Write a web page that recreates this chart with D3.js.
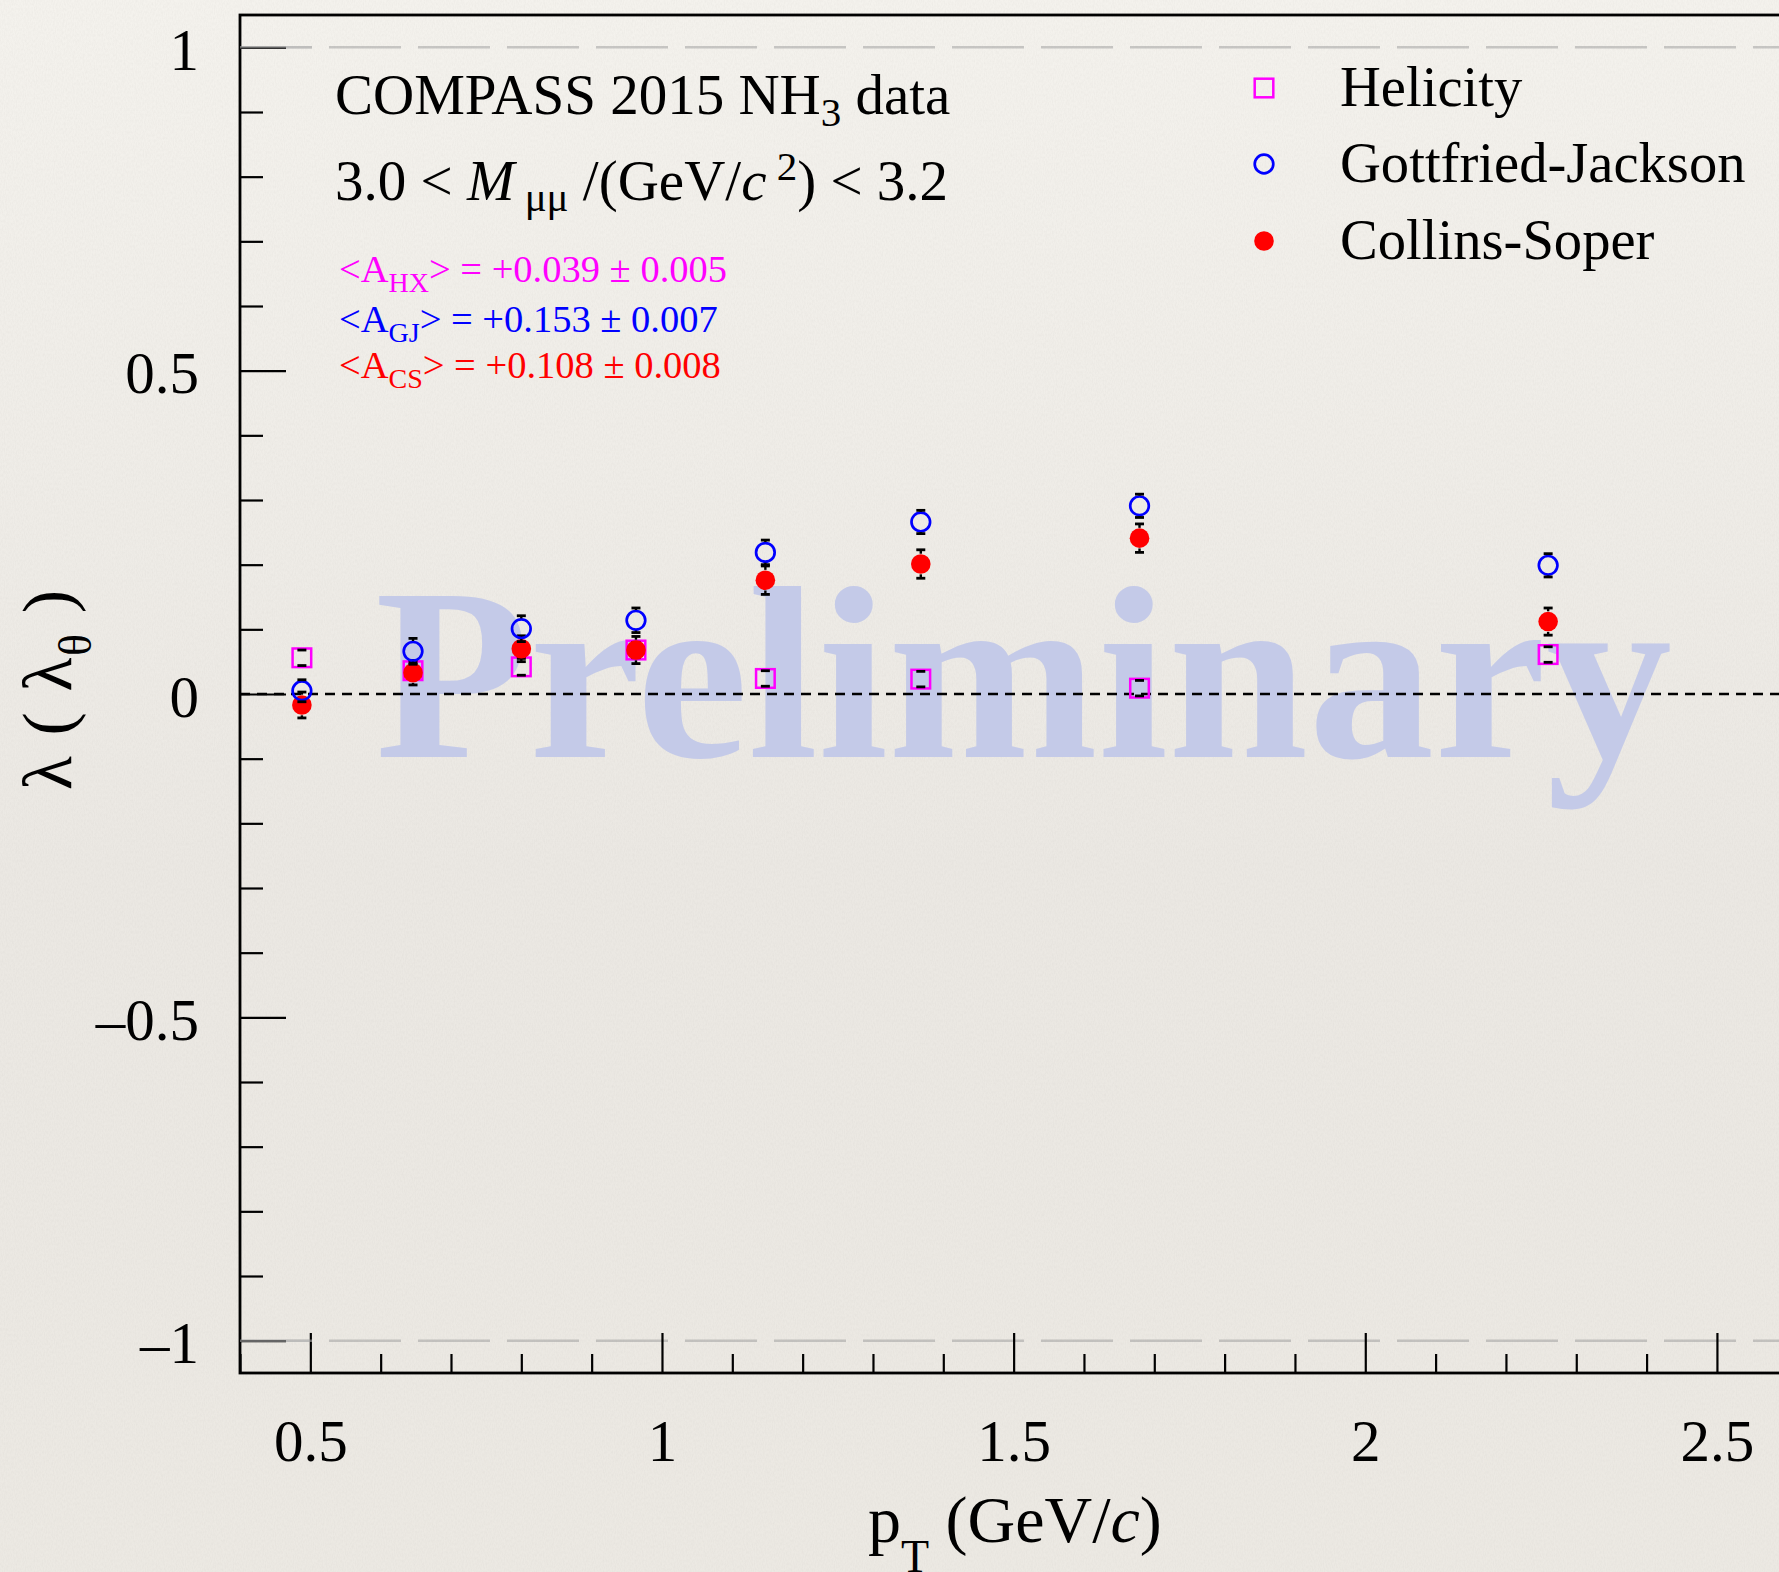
<!DOCTYPE html>
<html>
<head>
<meta charset="utf-8">
<script src="https://cdn.jsdelivr.net/npm/d3@7"></script>
<style>
  html, body { margin: 0; padding: 0; background: #efece7; }
  svg { display: block; }
</style>
</head>
<body>
<script>
// pT bin centres (GeV/c)
const ptBins = [0.488, 0.646, 0.800, 0.963, 1.147, 1.368, 1.679, 2.260];

// lambda_theta per frame, with statistical errors
const lambdaHX = [0.056, 0.036, 0.042, 0.068, 0.024, 0.023, 0.009, 0.061];
const errHX    = [0.012, 0.012, 0.013, 0.012, 0.012, 0.012, 0.012, 0.012];
const lambdaGJ = [0.005, 0.066, 0.101, 0.114, 0.219, 0.266, 0.291, 0.199];
const errGJ    = [0.017, 0.020, 0.020, 0.019, 0.019, 0.018, 0.018, 0.018];
const lambdaCS = [-0.017, 0.033, 0.070, 0.068, 0.176, 0.201, 0.241, 0.112];
const errCS    = [0.020, 0.019, 0.020, 0.021, 0.022, 0.022, 0.022, 0.021];

// axis ticks
const xMajorTicks = [0.5, 1, 1.5, 2, 2.5];
const xTickLabels = ["0.5", "1", "1.5", "2", "2.5"];
const yMajorTicks = [-1, -0.5, 0, 0.5, 1];
const yTickLabels = ["\u20131", "\u20130.5", "0", "0.5", "1"];

// legend and mean-asymmetry annotations
const frameNames  = ["Helicity", "Gottfried-Jackson", "Collins-Soper"];
const frameColors = ["#ff00ff", "#0000ff", "#ff0000"];
const meanSubs    = ["HX", "GJ", "CS"];
const meanValues  = ["+0.039", "+0.153", "+0.108"];
const meanErrors  = ["0.005", "0.007", "0.008"];

const W = 1779, H = 1572;
const serif = "'Liberation Serif', 'Times New Roman', serif";

const svg = d3.select("body").append("svg")
  .attr("width", W).attr("height", H)
  .attr("viewBox", `0 0 ${W} ${H}`);

// ---- paper background ----
const defs = svg.append("defs");
const bg = defs.append("linearGradient").attr("id", "paper")
  .attr("x1", 0).attr("y1", 0).attr("x2", 0).attr("y2", 1);
bg.append("stop").attr("offset", "0%").attr("stop-color", "#f4f2ed");
bg.append("stop").attr("offset", "55%").attr("stop-color", "#ebe8e3");
bg.append("stop").attr("offset", "100%").attr("stop-color", "#ece9e3");
const grain = defs.append("filter").attr("id", "grain")
  .attr("x", 0).attr("y", 0).attr("width", "100%").attr("height", "100%");
grain.append("feTurbulence").attr("type", "fractalNoise")
  .attr("baseFrequency", "0.9 0.35").attr("numOctaves", 2).attr("seed", 7);
grain.append("feColorMatrix").attr("type", "matrix")
  .attr("values", "0 0 0 0 0.45  0 0 0 0 0.43  0 0 0 0 0.40  0 0 0 -1.1 0.75");

svg.append("rect").attr("width", W).attr("height", H).attr("fill", "url(#paper)");
svg.append("rect").attr("width", W).attr("height", H)
  .attr("filter", "url(#grain)").attr("opacity", 0.14);

// ---- scales ----
const x = d3.scaleLinear().domain([0.4, 2.6]).range([240, 240 + 2.2 * 703.3]);
const y = d3.scaleLinear().domain([-1.05, 1.05]).range([1373, 15]);

// ---- watermark ----
svg.append("text")
  .attr("x", 375).attr("y", 757)
  .attr("font-family", serif).attr("font-weight", "bold")
  .attr("font-size", 246)
  .attr("fill", "#c4cae8")
  .attr("textLength", 1297).attr("lengthAdjust", "spacingAndGlyphs")
  .text("Preliminary");

// ---- reference lines ----
[1, -1].forEach(v => {
  svg.append("line")
    .attr("x1", x(0.4)).attr("x2", W)
    .attr("y1", y(v)).attr("y2", y(v))
    .attr("stroke", "#9a9a9a").attr("stroke-opacity", 0.5)
    .attr("stroke-width", 2.5).attr("stroke-dasharray", "72 17");
});
svg.append("line")
  .attr("x1", x(0.4)).attr("x2", W)
  .attr("y1", y(0)).attr("y2", y(0))
  .attr("stroke", "#000").attr("stroke-width", 2.6)
  .attr("stroke-dasharray", "10 7");

// ---- axes ----
const yMinor = d3.range(-10, 11).map(i => i / 10).filter(v => Math.abs(v * 2 - Math.round(v * 2)) > 1e-6);
const xMinor = d3.range(4, 27).map(i => i / 10).filter(v => Math.abs(v * 2 - Math.round(v * 2)) > 1e-6);

const yAxis = svg.append("g").attr("transform", `translate(${x(0.4)},0)`)
  .call(d3.axisLeft(y).tickValues(yMajorTicks).tickSize(-46).tickPadding(41)
    .tickFormat((d, i) => yTickLabels[i]));
yAxis.selectAll(".tick text").attr("dy", 22).attr("font-size", 59).attr("font-family", serif).attr("fill", "#000");
svg.append("g").attr("transform", `translate(${x(0.4)},0)`)
  .call(d3.axisLeft(y).tickValues(yMinor).tickSize(-23).tickFormat(""));

const xAxis = svg.append("g").attr("transform", `translate(0,${y(-1.05)})`)
  .call(d3.axisBottom(x).tickValues(xMajorTicks).tickSize(-40).tickPadding(46)
    .tickFormat((d, i) => xTickLabels[i]));
xAxis.selectAll(".tick text").attr("font-size", 59).attr("font-family", serif).attr("fill", "#000");
svg.append("g").attr("transform", `translate(0,${y(-1.05)})`)
  .call(d3.axisBottom(x).tickValues(xMinor).tickSize(-19).tickFormat(""));

svg.selectAll(".domain").remove();
svg.selectAll(".tick line").attr("stroke", "#000").attr("stroke-width", 2.2);

// frame
svg.append("rect")
  .attr("x", x(0.4)).attr("y", y(1.05))
  .attr("width", x(2.6) - x(0.4)).attr("height", y(-1.05) - y(1.05))
  .attr("fill", "none").attr("stroke", "#000").attr("stroke-width", 2.8);

// redraw the y = ±1 guides over their ticks
[1, -1].forEach(v => {
  svg.append("line")
    .attr("x1", x(0.4)).attr("x2", x(0.4) + 72)
    .attr("y1", y(v)).attr("y2", y(v))
    .attr("stroke", "#b8b8b8").attr("stroke-opacity", 0.55)
    .attr("stroke-width", 2.5);
});

// ---- data series ----
const MARK = 9.3;   // marker half-size (stroke centre)
const series = [
  { vals: lambdaHX, errs: errHX, color: frameColors[0], shape: "square" },
  { vals: lambdaCS, errs: errCS, color: frameColors[2], shape: "dot" },
  { vals: lambdaGJ, errs: errGJ, color: frameColors[1], shape: "circle" }
];

function drawMarker(g, shape, color, cx, cy) {
  if (shape === "square") {
    g.append("rect").attr("x", cx - MARK).attr("y", cy - MARK)
      .attr("width", 2 * MARK).attr("height", 2 * MARK)
      .attr("fill", "none").attr("stroke", color).attr("stroke-width", 2.5);
  } else if (shape === "circle") {
    g.append("circle").attr("cx", cx).attr("cy", cy).attr("r", MARK)
      .attr("fill", "none").attr("stroke", color).attr("stroke-width", 2.7);
  } else {
    g.append("circle").attr("cx", cx).attr("cy", cy).attr("r", 9.8)
      .attr("fill", color);
  }
}

series.forEach(s => {
  const g = svg.append("g");
  const pts = ptBins.map((p, i) => ({ p, v: s.vals[i], e: s.errs[i] }));
  pts.forEach(d => {
    const cx = x(d.p), cy = y(d.v);
    drawMarker(g, s.shape, s.color, cx, cy);
    const top = y(d.v + d.e), bot = y(d.v - d.e);
    const eb = g.append("g").attr("stroke", "#000").attr("stroke-width", 2.4);
    if (cy - top > MARK + 1) eb.append("line").attr("x1", cx).attr("x2", cx).attr("y1", top).attr("y2", cy - MARK - 1);
    if (bot - cy > MARK + 1) eb.append("line").attr("x1", cx).attr("x2", cx).attr("y1", cy + MARK + 1).attr("y2", bot);
    [top, bot].forEach(yy => eb.append("line")
      .attr("x1", cx - 4.5).attr("x2", cx + 4.5).attr("y1", yy).attr("y2", yy)
      .attr("stroke-width", 2.8));
  });
});

// ---- legend ----
const legendShapes = ["square", "circle", "dot"];
const legendY = [88, 164, 241];
frameNames.forEach((name, i) => {
  const g = svg.append("g");
  drawMarker(g, legendShapes[i], frameColors[i], 1264, legendY[i]);
  g.append("text").attr("x", 1340).attr("y", legendY[i] + 18)
    .attr("font-family", serif).attr("font-size", 56.6).attr("fill", "#000")
    .text(name);
});

// ---- header text ----
const t1 = svg.append("text").attr("x", 335).attr("y", 114)
  .attr("font-family", serif).attr("font-size", 57).attr("fill", "#000");
t1.append("tspan").text("COMPASS 2015 NH");
t1.append("tspan").attr("font-size", 41).attr("dy", 12).text("3");
t1.append("tspan").attr("dy", -12).text(" data");

const t2 = svg.append("text").attr("x", 335).attr("y", 200)
  .attr("font-family", serif).attr("font-size", 57).attr("fill", "#000");
t2.append("tspan").text("3.0 < ");
t2.append("tspan").attr("font-style", "italic").text("M");
t2.append("tspan").attr("font-size", 41).attr("dy", 11).text(" \u03bc\u03bc");
t2.append("tspan").attr("dy", -11).text(" /(GeV/");
t2.append("tspan").attr("font-style", "italic").text("c");
t2.append("tspan").attr("font-size", 41).attr("dy", -20).text(" 2");
t2.append("tspan").attr("dy", 20).text(") < 3.2");

const meanY = [282, 332, 378];
meanSubs.forEach((sub, i) => {
  const t = svg.append("text").attr("x", 339).attr("y", meanY[i])
    .attr("font-family", serif).attr("font-size", 38.5).attr("fill", frameColors[i]);
  t.append("tspan").text("<A");
  t.append("tspan").attr("font-size", 28).attr("dy", 10).text(sub);
  t.append("tspan").attr("dy", -10).text(`> = ${meanValues[i]} \u00b1 ${meanErrors[i]}`);
});

// ---- axis titles ----
const xt = svg.append("text").attr("x", 868).attr("y", 1542)
  .attr("font-family", serif).attr("font-size", 66).attr("fill", "#000");
xt.append("tspan").text("p");
xt.append("tspan").attr("font-size", 46).attr("dy", 30).text("T");
xt.append("tspan").attr("dy", -30).text(" (GeV/");
xt.append("tspan").attr("font-style", "italic").text("c");
xt.append("tspan").text(")");

const yt = svg.append("text")
  .attr("transform", "translate(71,790) rotate(-90)")
  .attr("font-family", serif).attr("font-size", 70).attr("fill", "#000")
  .attr("textLength", 200).attr("lengthAdjust", "spacing");
yt.append("tspan").text("\u03bb ( \u03bb");
yt.append("tspan").attr("font-size", 46).attr("dy", 20).text("\u03b8");
yt.append("tspan").attr("dy", -20).text(" )");
</script>
</body>
</html>
